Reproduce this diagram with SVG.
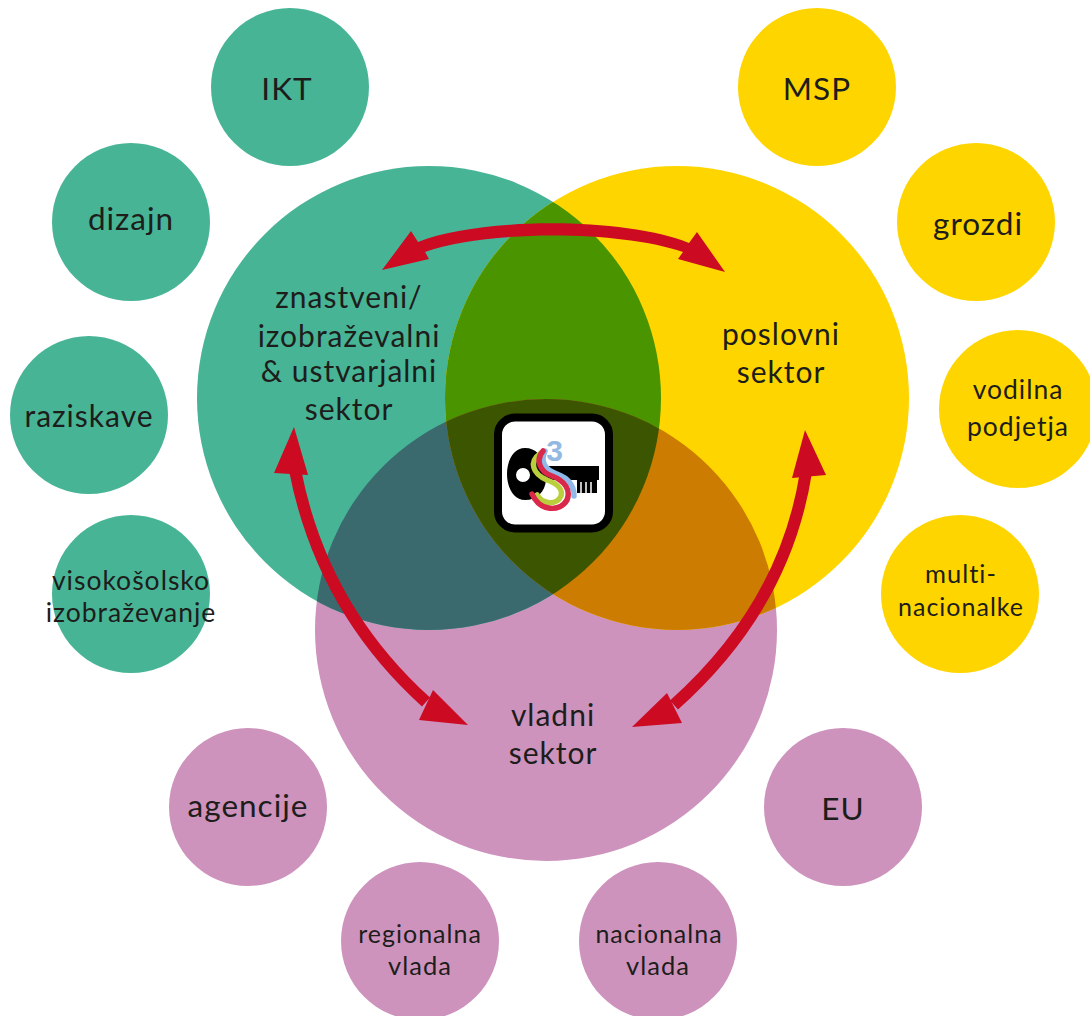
<svg xmlns="http://www.w3.org/2000/svg" width="1090" height="1016" viewBox="0 0 1090 1016">
<style>
.g{fill:#48b496}.y{fill:#ffd500}.p{fill:#cd93bd}
.a{fill:#cc0a22}
.sh{fill:none;stroke:#cc0a22;stroke-width:12}
.k{fill:none;stroke-width:5.5;stroke-linecap:round}
text{font-family:"Lato","Liberation Sans",sans-serif;fill:#1d1d1b;text-anchor:middle;letter-spacing:1px}
.l{font-size:31.5px}.m{font-size:30px}.s{font-size:25.5px}.t{font-size:25px}.w{font-size:26.5px}
</style>
<defs>
<clipPath id="cg"><circle cx="429" cy="398" r="232"/></clipPath>
<clipPath id="cy"><circle cx="677" cy="398" r="232"/></clipPath>
</defs>
<g id="sector-circles">
<circle id="pink-sector" class="p" cx="546" cy="630" r="231"/>
<circle id="green-sector" class="g" cx="429" cy="398" r="232"/>
<circle id="yellow-sector" class="y" cx="677" cy="398" r="232"/>
<g clip-path="url(#cg)"><circle cx="677" cy="398" r="232" fill="#4a9400"/><circle cx="546" cy="630" r="231" fill="#3a6a6e"/></g>
<g clip-path="url(#cy)"><circle cx="546" cy="630" r="231" fill="#cc7c00"/></g>
<g clip-path="url(#cg)"><g clip-path="url(#cy)"><circle cx="546" cy="630" r="231" fill="#3c5500"/></g></g>
</g>
<g id="sector-labels">
<g id="znanstveni" class="m"><text x="349" y="308">znastveni/</text><text x="349" y="347">izobraževalni</text><text x="349" y="382">&amp; ustvarjalni</text><text x="349" y="420">sektor</text></g>
<g id="poslovni" class="m"><text x="781" y="345">poslovni</text><text x="781" y="383">sektor</text></g>
<g id="vladni" class="m"><text x="553" y="726">vladni</text><text x="553" y="764">sektor</text></g>
</g>
<g id="connectors">
<path class="a" d="M382 270L411 231L418 242C480 217 625 217 689 243L697 232L725 272L678 259L683 252C620 230 485 230 425 252L429 259Z"/>
<path class="sh" d="M295 470Q322 608 426 702"/>
<path class="a" d="M294 427L308 475L274 473Z"/>
<path class="a" d="M433 690L468 725L419 720Z"/>
<path class="sh" d="M806 472Q785 606 674 705"/>
<path class="a" d="M805 430L826 475L792 478Z"/>
<path class="a" d="M632 727L667 693L682 723Z"/>
</g>
<g id="logo">
<rect x="498" y="417.5" width="111" height="111" rx="17" fill="#fff" stroke="#000" stroke-width="8"/>
<path fill-rule="evenodd" d="M525 448C536 448 542 456 544 466H599V480H597V493H577V480H546C545 492 537 500 525 500C514 500 507 488 507 474C507 460 514 448 525 448ZM523 468A7 7 0 1 0 523 482A7 7 0 1 0 523 468Z" fill="#000"/>
<path d="M581 482V493M586 482V493M591 482V493" stroke="#fff" stroke-width="1.5"/>
<path class="k" stroke="#8fb9e8" d="M545 451C540 462 545 470 557 474C568 478 574 485 574 496"/>
<path class="k" stroke="#b9cf3c" d="M541 453C528 462 533 474 547 480C558 484 563 490 561 496C557 505 543 505 537 495"/>
<path class="k" stroke="#d9284a" d="M543 451C535 460 540 472 552 476C565 481 571 490 567 500C560 512 540 512 532 494"/>
<text x="554.5" y="461" style="font-family:'Liberation Sans',sans-serif;font-size:30px;font-weight:bold;fill:#93b9e3;letter-spacing:0">3</text>
</g>
<g id="node-ikt"><circle class="g" cx="290" cy="87" r="79"/><text class="l" x="287" y="100">IKT</text></g>
<g id="node-dizajn"><circle class="g" cx="131" cy="222" r="79"/><text class="l" x="131" y="230">dizajn</text></g>
<g id="node-raziskave"><circle class="g" cx="89" cy="415" r="79"/><text class="m" x="89" y="427">raziskave</text></g>
<g id="node-visokosolsko"><circle class="g" cx="131" cy="594" r="79"/><text class="w" x="131" y="590">visokošolsko</text><text class="w" x="131" y="622">izobraževanje</text></g>
<g id="node-msp"><circle class="y" cx="817" cy="87" r="79"/><text class="l" x="817" y="100">MSP</text></g>
<g id="node-grozdi"><circle class="y" cx="976" cy="222" r="79"/><text class="l" x="978" y="235">grozdi</text></g>
<g id="node-vodilna"><circle class="y" cx="1018" cy="409" r="79"/><text class="w" x="1018" y="399">vodilna</text><text class="w" x="1018" y="436">podjetja</text></g>
<g id="node-multi"><circle class="y" cx="960" cy="594" r="79"/><text class="s" x="961" y="583">multi-</text><text class="t" x="961" y="616">nacionalke</text></g>
<g id="node-agencije"><circle class="p" cx="248" cy="807" r="79"/><text class="l" x="248" y="817">agencije</text></g>
<g id="node-regionalna"><circle class="p" cx="420" cy="941" r="79"/><text class="t" x="420" y="943">regionalna</text><text class="s" x="420" y="975">vlada</text></g>
<g id="node-nacionalna"><circle class="p" cx="658" cy="941" r="79"/><text class="t" x="659" y="943">nacionalna</text><text class="s" x="658" y="975">vlada</text></g>
<g id="node-eu"><circle class="p" cx="843" cy="807" r="79"/><text class="l" x="843" y="820">EU</text></g>
</svg>
